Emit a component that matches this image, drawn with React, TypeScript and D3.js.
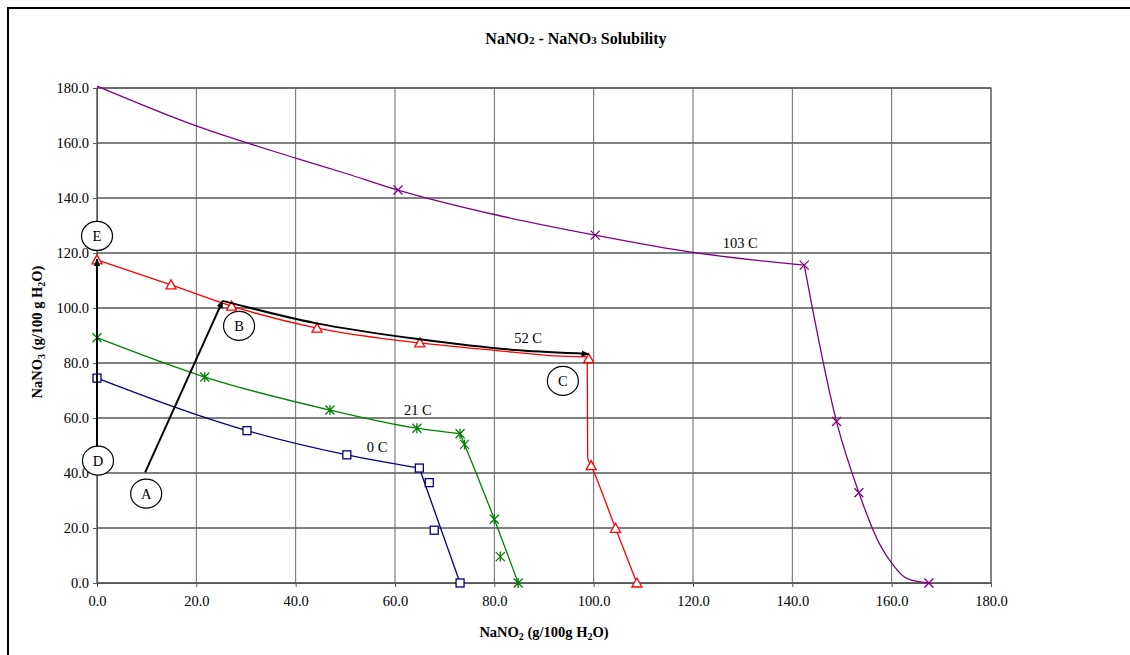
import React, { useEffect, useRef } from 'react';
import * as d3 from 'd3';

// axis ticks
const xTicks = [0, 20, 40, 60, 80, 100, 120, 140, 160, 180];
const yTicks = [0, 20, 40, 60, 80, 100, 120, 140, 160, 180];

// 0 C (NaNO2, NaNO3)
const line0C: [number, number][] = [[0, 74.5], [30.2, 55.4], [50.3, 46.6], [64.9, 41.8], [73.1, 0]];
const marks0C: [number, number][] = [[0, 74.5], [30.2, 55.4], [50.3, 46.6], [64.9, 41.8], [66.9, 36.5], [67.9, 19.2], [73.1, 0]];

// 21 C
const line21C: [number, number][] = [[0, 89.2], [21.7, 74.9], [46.9, 62.9], [64.4, 56.3], [73.1, 54.3], [74.0, 50.4], [80.0, 23.2], [84.8, 0]];
const marks21C: [number, number][] = [[0, 89.2], [21.7, 74.9], [46.9, 62.9], [64.4, 56.3], [73.1, 54.3], [74.0, 50.4], [80.0, 23.2], [81.2, 9.6], [84.8, 0]];

// 52 C
const line52C: [number, number][] = [[0, 117.5], [14.9, 108.4], [27.1, 100.7], [44.3, 92.7], [65, 87.3], [80, 84.6], [92, 82.6], [98.7, 82.2], [98.8, 45.5], [99.5, 42.7], [104.4, 19.9], [108.7, 0]];
const marks52C: [number, number][] = [[0, 117.5], [14.9, 108.4], [27.1, 100.7], [44.3, 92.7], [65, 87.3], [99.0, 81.6], [99.5, 42.7], [104.4, 19.9], [108.7, 0]];

// 103 C
const line103C: [number, number][] = [[0, 180.7], [20, 166.2], [40, 154.5], [50, 149], [60.6, 142.9], [80, 134], [100.3, 126.5], [120, 120.2], [142.4, 115.6], [148.9, 58.7], [153.4, 32.8], [157.5, 14.4], [160.3, 6.5], [163, 1.7], [167.5, 0]];
const marks103C: [number, number][] = [[60.6, 142.9], [100.3, 126.5], [142.4, 115.6], [148.9, 58.7], [153.4, 32.8], [167.5, 0]];

// index of the sharp corner in each line
const corners = [3, 4, 7, 8];

const seriesLabels = ['0 C', '21 C', '52 C', '103 C'];
const seriesLabelPos: [number, number][] = [[56.4, 49.5], [64.6, 63], [86.8, 89], [129.5, 123.5]];

// annotations
const arrowDE: [number, number][] = [[0, 49.5], [0, 117.8]];
const arrowAB: [number, number][] = [[9.7, 40.2], [25.3, 102.6]];
const arrowBC: [number, number][] = [[25.3, 102.6], [44, 94.5], [65, 88.6], [85, 84.6], [99, 83.3]];
const circleNames = ['E', 'B', 'C', 'D', 'A'];
const circlePos: [number, number][] = [[0, 126.2], [28.6, 93.5], [93.8, 73.5], [0.2, 44.5], [9.9, 32.5]];

const W = 1130, H = 655;
const left = 97, right = 991, top = 88, bottom = 583;
const font = '"Liberation Serif", "Times New Roman", serif';

export default function App() {
  const ref = useRef<SVGSVGElement>(null);

  useEffect(() => {
    const svg = d3.select(ref.current);
    svg.selectAll('*').remove();

    const x = d3.scaleLinear().domain([0, 180]).range([left, right]);
    const y = d3.scaleLinear().domain([0, 180]).range([bottom, top]);

    const defs = svg.append('defs');
    defs.append('marker').attr('id', 'arr').attr('viewBox', '0 0 10 10')
      .attr('refX', 9).attr('refY', 5).attr('markerWidth', 8).attr('markerHeight', 8)
      .attr('markerUnits', 'userSpaceOnUse').attr('orient', 'auto')
      .append('path').attr('d', 'M0,1 L10,5 L0,9 Z').attr('fill', '#000');

    // outer frame
    svg.append('rect').attr('x', 8).attr('y', 8).attr('width', 1200).attr('height', 700)
      .attr('fill', 'none').attr('stroke', '#000').attr('stroke-width', 2);

    // grid
    const g = svg.append('g');
    g.selectAll('.hg').data(yTicks).join('line').attr('class', 'hg')
      .attr('x1', left).attr('x2', right).attr('y1', d => y(d)).attr('y2', d => y(d))
      .attr('stroke', '#000').attr('stroke-width', 1);
    g.selectAll('.vg').data(xTicks).join('line').attr('class', 'vg')
      .attr('y1', top).attr('y2', bottom).attr('x1', d => x(d)).attr('x2', d => x(d))
      .attr('stroke', '#666').attr('stroke-width', 1);
    g.append('rect').attr('x', left).attr('y', top).attr('width', right - left).attr('height', bottom - top)
      .attr('fill', 'none').attr('stroke', '#555').attr('stroke-width', 1);

    // axes
    const ya = svg.append('g').attr('transform', `translate(${left},0)`)
      .call(d3.axisLeft(y).tickValues(yTicks).tickFormat(d3.format('.1f')).tickSize(4).tickPadding(4));
    const xa = svg.append('g').attr('transform', `translate(0,${bottom})`)
      .call(d3.axisBottom(x).tickValues(xTicks).tickFormat(d3.format('.1f')).tickSize(4).tickPadding(9));
    [ya, xa].forEach(a => {
      a.select('.domain').attr('stroke', '#555');
      a.selectAll('.tick line').attr('stroke', '#555');
      a.selectAll('text').attr('font-family', font).attr('font-size', 14.5).attr('fill', '#000');
    });

    // series
    const line = d3.line<[number, number]>().x(d => x(d[0])).y(d => y(d[1])).curve(d3.curveMonotoneX);
    const series = [
      { l: line0C, m: marks0C, c: '#000080', s: 'square' },
      { l: line21C, m: marks21C, c: '#008000', s: 'star' },
      { l: line52C, m: marks52C, c: '#FF0000', s: 'tri' },
      { l: line103C, m: marks103C, c: '#800080', s: 'x' },
    ];
    series.forEach((se, si) => {
      const k = corners[si];
      [se.l.slice(0, k + 1), se.l.slice(k)].forEach(part => {
        svg.append('path').attr('d', line(part)).attr('fill', 'none').attr('stroke', se.c)
          .attr('stroke-width', 1.3).attr('stroke-linejoin', 'miter');
      });
      const mg = svg.append('g');
      se.m.forEach(p => {
        const cx = x(p[0]), cy = y(p[1]);
        if (se.s === 'square') {
          mg.append('rect').attr('x', cx - 4).attr('y', cy - 4).attr('width', 8).attr('height', 8)
            .attr('fill', '#fff').attr('stroke', se.c).attr('stroke-width', 1.3);
        } else if (se.s === 'tri') {
          mg.append('path').attr('d', `M${cx},${cy - 5} L${cx + 5},${cy + 4} L${cx - 5},${cy + 4} Z`)
            .attr('fill', '#fff').attr('stroke', se.c).attr('stroke-width', 1.3);
        } else if (se.s === 'star') {
          mg.append('path').attr('d', `M${cx - 4.5},${cy - 4.5} L${cx + 4.5},${cy + 4.5} M${cx - 4.5},${cy + 4.5} L${cx + 4.5},${cy - 4.5} M${cx},${cy - 5} L${cx},${cy + 5}`)
            .attr('stroke', se.c).attr('stroke-width', 1.3);
        } else {
          mg.append('path').attr('d', `M${cx - 4.5},${cy - 4.5} L${cx + 4.5},${cy + 4.5} M${cx - 4.5},${cy + 4.5} L${cx + 4.5},${cy - 4.5}`)
            .attr('stroke', se.c).attr('stroke-width', 1.3);
        }
      });
    });

    // series labels
    svg.selectAll('.slab').data(seriesLabels).join('text').attr('class', 'slab')
      .attr('x', (d, i) => x(seriesLabelPos[i][0])).attr('y', (d, i) => y(seriesLabelPos[i][1]))
      .attr('text-anchor', 'middle').attr('dy', '0.35em')
      .attr('font-family', font).attr('font-size', 14.5).text(d => d);

    // annotation arrows
    const straight = d3.line<[number, number]>().x(d => x(d[0])).y(d => y(d[1]));
    [arrowDE, arrowAB].forEach(a => {
      svg.append('path').attr('d', straight(a)).attr('fill', 'none').attr('stroke', '#000')
        .attr('stroke-width', 2).attr('marker-end', 'url(#arr)');
    });
    svg.append('path').attr('d', line(arrowBC)).attr('fill', 'none').attr('stroke', '#000')
      .attr('stroke-width', 2).attr('marker-end', 'url(#arr)');

    // circled letters
    const cg = svg.selectAll('.circ').data(circleNames).join('g').attr('class', 'circ')
      .attr('transform', (d, i) => `translate(${x(circlePos[i][0])},${y(circlePos[i][1])})`);
    cg.append('ellipse').attr('rx', 15.5).attr('ry', 14.5).attr('fill', '#fff').attr('stroke', '#000').attr('stroke-width', 1.2);
    cg.append('text').attr('text-anchor', 'middle').attr('dy', '0.35em')
      .attr('font-family', font).attr('font-size', 14.5).text(d => d);

    // title
    const t = svg.append('text').attr('x', 576).attr('y', 44).attr('text-anchor', 'middle')
      .attr('font-family', font).attr('font-size', 16).attr('font-weight', 'bold');
    t.append('tspan').text('NaNO');
    t.append('tspan').attr('font-size', 11).text('2');
    t.append('tspan').text(' - NaNO');
    t.append('tspan').attr('font-size', 11).text('3');
    t.append('tspan').text(' Solubility');

    // x title
    const xt = svg.append('text').attr('x', 544).attr('y', 637).attr('text-anchor', 'middle')
      .attr('font-family', font).attr('font-size', 14.5).attr('font-weight', 'bold');
    xt.append('tspan').text('NaNO');
    xt.append('tspan').attr('font-size', 10).attr('dy', 3).text('2');
    xt.append('tspan').attr('dy', -3).text(' (g/100g H');
    xt.append('tspan').attr('font-size', 10).attr('dy', 3).text('2');
    xt.append('tspan').attr('dy', -3).text('O)');

    // y title
    const yt = svg.append('text').attr('transform', 'translate(42,332) rotate(-90)').attr('text-anchor', 'middle')
      .attr('font-family', font).attr('font-size', 14.5).attr('font-weight', 'bold');
    yt.append('tspan').text('NaNO');
    yt.append('tspan').attr('font-size', 10).attr('dy', 3).text('3');
    yt.append('tspan').attr('dy', -3).text('  (g/100 g H');
    yt.append('tspan').attr('font-size', 10).attr('dy', 3).text('2');
    yt.append('tspan').attr('dy', -3).text('O)');
  }, []);

  return (
    <svg ref={ref} width={W} height={H}
      style={{ position: 'absolute', left: 0, top: 0, background: '#fff' }} />
  );
}
